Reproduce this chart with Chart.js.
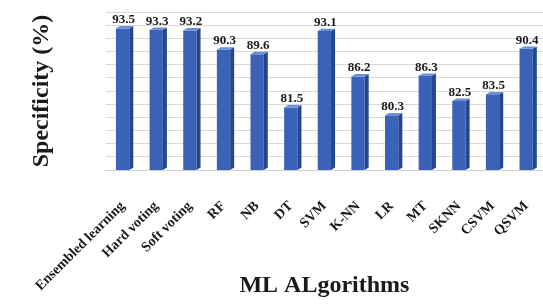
<!DOCTYPE html>
<html lang="en">
<head>
    <meta charset="UTF-8">
    <title>Specificity of ML Algorithms</title>
    <script src="https://cdn.jsdelivr.net/npm/chart.js"></script>
    <style>
        html, body {
            margin: 0;
            padding: 0;
            background: #ffffff;
        }

        .chart-container {
            width: 543px;
            height: 304px;
        }
    </style>
</head>
<body>
    <div class="chart-container">
        <canvas id="spec-chart"></canvas>
    </div>

    <script>
        // Values
        const algorithms = ['Ensembled learning', 'Hard voting', 'Soft voting', 'RF', 'NB', 'DT',
            'SVM', 'K-NN', 'LR', 'MT', 'SKNN', 'CSVM', 'QSVM'];
        const specificity = [93.5, 93.3, 93.2, 90.3, 89.6, 81.5, 93.1, 86.2, 80.3, 86.3, 82.5, 83.5, 90.4];

        const serif = '"Liberation Serif", "Times New Roman", serif';

        // Fake 3D look: darker side face + lighter top, plus value labels
        const bar3d = {
            id: 'bar3d',
            afterDatasetsDraw(chart) {
                const ctx = chart.ctx;
                const meta = chart.getDatasetMeta(0);
                const bottom = chart.chartArea.bottom;
                const depth = 4;
                ctx.save();
                meta.data.forEach((bar, i) => {
                    const half = bar.width / 2;
                    const right = bar.x + half;
                    const left = bar.x - half;
                    const base = Math.min(bar.base, bottom);
                    // side face
                    ctx.fillStyle = '#24468f';
                    ctx.beginPath();
                    ctx.moveTo(right, bar.y);
                    ctx.lineTo(right + depth, bar.y - depth * 0.6);
                    ctx.lineTo(right + depth, base - depth * 0.6);
                    ctx.lineTo(right, base);
                    ctx.closePath();
                    ctx.fill();
                    // top face
                    ctx.fillStyle = '#6a8fd6';
                    ctx.beginPath();
                    ctx.moveTo(left, bar.y);
                    ctx.lineTo(left + depth, bar.y - depth * 0.6);
                    ctx.lineTo(right + depth, bar.y - depth * 0.6);
                    ctx.lineTo(right, bar.y);
                    ctx.closePath();
                    ctx.fill();
                    // value label
                    ctx.fillStyle = '#1a1a1a';
                    ctx.font = 'bold 13px ' + serif;
                    ctx.textAlign = 'center';
                    ctx.textBaseline = 'bottom';
                    ctx.fillText(specificity[i].toFixed(1), bar.x + 1, bar.y - 2);
                });
                ctx.restore();
            }
        };

        const ctx = document.getElementById('spec-chart').getContext('2d');
        new Chart(ctx, {
            type: 'bar',
            data: {
                labels: algorithms,
                datasets: [{
                    label: 'Specificity (%)',
                    data: specificity,
                    backgroundColor: '#3a63b8',
                    borderWidth: 0,
                    barPercentage: 0.55,
                    categoryPercentage: 0.72
                }]
            },
            options: {
                responsive: true,
                maintainAspectRatio: false,
                animation: false,
                layout: {
                    padding: { left: 27, right: 0, top: 12, bottom: 4 }
                },
                plugins: {
                    legend: { display: false },
                    tooltip: { enabled: false }
                },
                scales: {
                    x: {
                        grid: { display: false },
                        border: { color: '#d0d0d0' },
                        ticks: {
                            color: '#1a1a1a',
                            font: { family: serif, size: 14, weight: 'bold' },
                            minRotation: 45,
                            maxRotation: 45,
                            padding: 20
                        },
                        title: {
                            display: true,
                            text: 'ML ALgorithms',
                            color: '#1a1a1a',
                            font: { family: serif, size: 24, weight: 'bold' },
                            padding: { top: 0, bottom: 0 }
                        },
                        // keep the plot bottom where the reference has it
                        afterFit(scale) {
                            scale.height = 130;
                            scale.paddingRight = 0;
                        }
                    },
                    y: {
                        min: 72,
                        max: 96,
                        grid: { color: '#d9d9d9', drawTicks: false },
                        border: { display: false },
                        ticks: { display: false, stepSize: 2 },
                        title: {
                            display: true,
                            text: 'Specificity (%)',
                            color: '#1a1a1a',
                            font: { family: serif, size: 24, weight: 'bold' },
                            padding: { top: 0, bottom: 50 }
                        }
                    }
                }
            },
            plugins: [bar3d]
        });
    </script>
</body>
</html>
